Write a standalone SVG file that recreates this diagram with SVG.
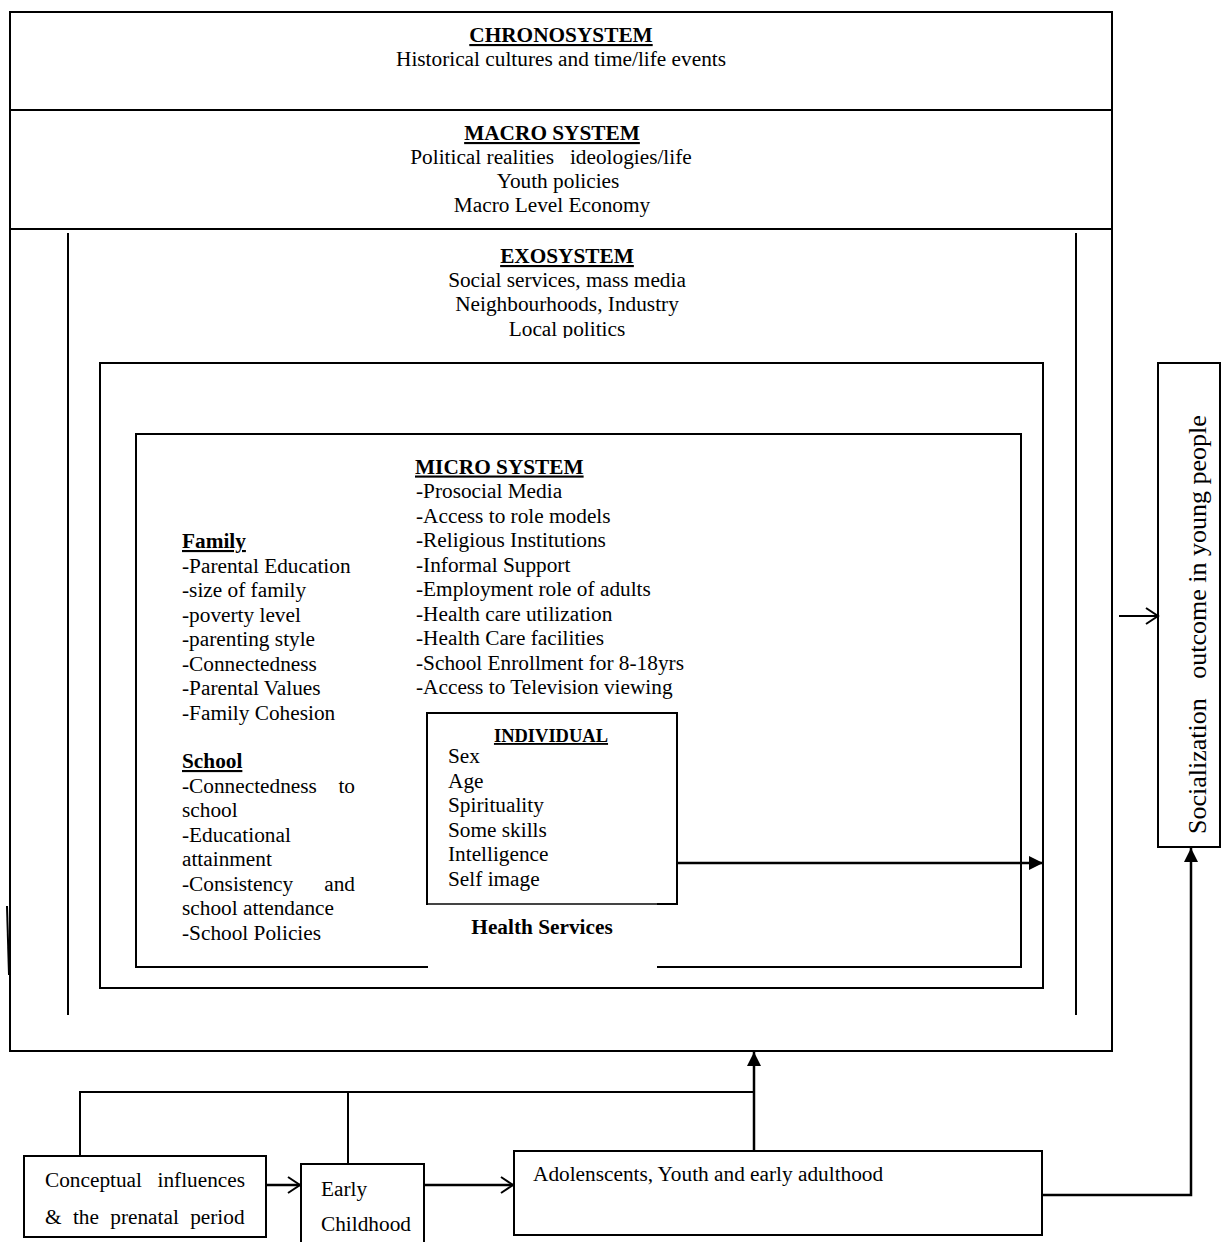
<svg xmlns="http://www.w3.org/2000/svg" width="1221" height="1242" viewBox="0 0 1221 1242">
<style>
text{font-family:"Liberation Serif","Times New Roman",serif;font-size:21.3px;fill:#000}
.b{font-weight:bold}
.u{text-decoration:underline}
.c{text-anchor:middle}
.box{fill:none;stroke:#000;stroke-width:2}
.ln{fill:none;stroke:#000;stroke-width:2}
.thick{fill:none;stroke:#000;stroke-width:2.5}
</style>
<defs>
<marker id="tri" markerUnits="userSpaceOnUse" markerWidth="14" markerHeight="14" refX="14" refY="7" orient="auto" viewBox="0 0 14 14"><path d="M0,0 L14,7 L0,14 z" fill="#000"/></marker>
<marker id="vee" markerUnits="userSpaceOnUse" markerWidth="16" markerHeight="20" refX="14" refY="10" orient="auto" viewBox="0 0 16 20"><path d="M2,2 L14,10 L2,18" fill="none" stroke="#000" stroke-width="2"/></marker>
<clipPath id="exoclip"><rect x="0" y="230" width="1221" height="108"/></clipPath>
</defs>
<rect width="1221" height="1242" fill="#fff"/>

<g id="outer">
<rect class="box" x="10" y="12" width="1102" height="1039"/>
<line class="ln" x1="7" y1="906" x2="9" y2="975"/>
</g>

<g id="chronosystem">
<text class="b u c" x="561" y="42">CHRONOSYSTEM</text>
<text class="c" x="561" y="66">Historical cultures and time/life events</text>
<line class="ln" x1="10" y1="110" x2="1112" y2="110"/>
</g>

<g id="macrosystem">
<text class="b u c" x="552" y="140">MACRO SYSTEM</text>
<text class="c" x="551" y="164" xml:space="preserve">Political realities   ideologies/life</text>
<text class="c" x="558" y="188">Youth policies</text>
<text class="c" x="552" y="212">Macro Level Economy</text>
<line class="ln" x1="10" y1="229" x2="1112" y2="229"/>
</g>

<g id="exosystem">
<line class="ln" x1="68" y1="233" x2="68" y2="1015"/>
<line class="ln" x1="1076" y1="233" x2="1076" y2="1015"/>
<g clip-path="url(#exoclip)">
<text class="b u c" x="567" y="263">EXOSYSTEM</text>
<text class="c" x="567" y="287">Social services, mass media</text>
<text class="c" x="567" y="311">Neighbourhoods, Industry</text>
<text class="c" x="567" y="336">Local politics</text>
</g>
<rect class="box" x="100" y="363" width="943" height="625"/>
</g>

<g id="microsystem">
<rect class="box" x="136" y="434" width="885" height="533"/>
<text class="b u" x="415" y="473.5">MICRO SYSTEM</text>
<text x="416" y="498">-Prosocial Media</text>
<text x="416" y="522.5">-Access to role models</text>
<text x="416" y="547">-Religious Institutions</text>
<text x="416" y="571.5">-Informal Support</text>
<text x="416" y="596">-Employment role of adults</text>
<text x="416" y="620.5">-Health care utilization</text>
<text x="416" y="645">-Health Care facilities</text>
<text x="416" y="669.5">-School Enrollment for 8-18yrs</text>
<text x="416" y="694">-Access to Television viewing</text>
</g>

<g id="family">
<text class="b u" x="182" y="548">Family</text>
<text x="182" y="572.5">-Parental Education</text>
<text x="182" y="597">-size of family</text>
<text x="182" y="621.5">-poverty level</text>
<text x="182" y="646">-parenting style</text>
<text x="182" y="670.5">-Connectedness</text>
<text x="182" y="695">-Parental Values</text>
<text x="182" y="719.5">-Family Cohesion</text>
</g>

<g id="school">
<text class="b u" x="182" y="768">School</text>
<text y="792.5"><tspan x="182">-Connectedness</tspan><tspan x="355" text-anchor="end">to</tspan></text>
<text x="182" y="817">school</text>
<text x="182" y="841.5">-Educational</text>
<text x="182" y="866">attainment</text>
<text y="890.5"><tspan x="182">-Consistency</tspan><tspan x="355" text-anchor="end">and</tspan></text>
<text x="182" y="915">school attendance</text>
<text x="182" y="939.5">-School Policies</text>
</g>

<g id="individual">
<rect class="box" x="427" y="713" width="250" height="191"/>
<rect x="428" y="905" width="229" height="65" fill="#fff"/>
<line x1="428" y1="904" x2="657" y2="904" stroke="#888" stroke-width="1"/>
<text class="b u c" x="551" y="742" style="font-size:18.5px">INDIVIDUAL</text>
<text x="448" y="763">Sex</text>
<text x="448" y="787.5">Age</text>
<text x="448" y="812">Spirituality</text>
<text x="448" y="836.5">Some skills</text>
<text x="448" y="861">Intelligence</text>
<text x="448" y="885.5">Self image</text>
</g>

<g id="health-services">
<text class="b c" x="542" y="934">Health Services</text>
</g>

<g id="socialization">
<rect class="box" x="1158" y="363" width="62" height="484"/>
<text x="1206" y="834" transform="rotate(-90 1206 834)" style="font-size:26px" xml:space="preserve">Socialization   outcome in young people</text>
</g>

<g id="conceptual">
<rect class="box" x="24" y="1156" width="242" height="81"/>
<text y="1187"><tspan x="45">Conceptual</tspan><tspan x="245" text-anchor="end">influences</tspan></text>
<text x="45" y="1224" style="word-spacing:6px">&amp; the prenatal period</text>
</g>

<g id="early-childhood">
<rect class="box" x="301" y="1164" width="123" height="90"/>
<text x="321" y="1196">Early</text>
<text x="321" y="1231">Childhood</text>
</g>

<g id="adolescents">
<rect class="box" x="514" y="1151" width="528" height="84"/>
<text x="533" y="1181">Adolenscents, Youth and early adulthood</text>
</g>

<g id="connectors">
<line class="thick" x1="677" y1="863" x2="1043" y2="863" marker-end="url(#tri)"/>
<line class="ln" x1="1119" y1="616" x2="1158" y2="616" marker-end="url(#vee)"/>
<line class="thick" x1="266" y1="1185" x2="300" y2="1185" marker-end="url(#vee)"/>
<line class="thick" x1="424" y1="1185" x2="513" y2="1185" marker-end="url(#vee)"/>
<polyline class="ln" points="80,1156 80,1092 754,1092"/>
<line class="ln" x1="348" y1="1092" x2="348" y2="1164"/>
<line class="thick" x1="754" y1="1151" x2="754" y2="1052" marker-end="url(#tri)"/>
<polyline class="thick" points="1042,1195 1191,1195 1191,848" marker-end="url(#tri)"/>
</g>
</svg>
